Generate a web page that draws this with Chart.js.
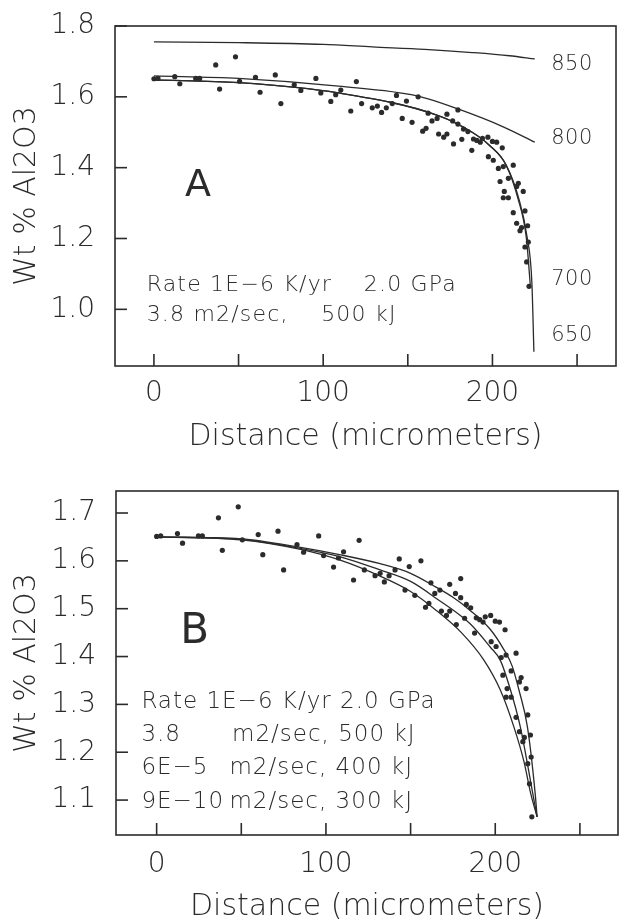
<!DOCTYPE html>
<html>
<head>
<meta charset="utf-8">
<script src="https://cdn.jsdelivr.net/npm/chart.js@4.4.1/dist/chart.umd.min.js"></script>
<style>
    html, body { margin: 0; padding: 0; background: #fff; }
    .panel { position: absolute; left: 0; }
</style>
</head>
<body>
<canvas id="chartA" class="panel" width="625" height="460" style="top:0"></canvas>
<canvas id="chartB" class="panel" width="625" height="462" style="top:460px"></canvas>
<script>
// measured profile (same points in both panels)
const distance = [0, 2.4, 12.3, 15.3, 24.7, 27, 36.5, 48.2, 38.8, 50.6, 60, 62.7, 71.7, 75, 82.9, 86.8,
    95.7, 98.6, 104.5, 107.4, 110.4, 119.6, 116.3, 122.7, 129, 132, 134.5, 137.3, 140.8, 143.3, 146.7,
    149.2, 152.5, 156.1, 158.8, 160.8, 162, 164.3, 167.3, 168.2, 171.2, 173.1, 173.1, 176.5, 177, 179.6,
    179.6, 181.9, 182.9, 185.5, 187.8, 188.8, 190.8, 192.8, 194.1, 197.3, 200, 202.5, 197.6, 200.5, 205.8,
    203.5, 206.4, 204.5, 209.4, 212.3, 207, 206.4, 209.4, 214.3, 215.3, 218.2, 212.3, 219.2, 214.3, 217.2,
    220.8, 216.3, 221.2, 219.2, 220.2, 221.6];
const alumina = [1.651, 1.652, 1.657, 1.637, 1.652, 1.652, 1.690, 1.713, 1.622, 1.644, 1.655, 1.613, 1.662,
    1.581, 1.634, 1.618, 1.652, 1.611, 1.587, 1.606, 1.619, 1.643, 1.560, 1.581, 1.569, 1.574, 1.556, 1.569,
    1.581, 1.604, 1.539, 1.588, 1.528, 1.600, 1.503, 1.511, 1.554, 1.532, 1.539, 1.495, 1.486, 1.495, 1.551,
    1.532, 1.467, 1.563, 1.523, 1.480, 1.509, 1.502, 1.449, 1.481, 1.477, 1.472, 1.483, 1.486, 1.474, 1.472,
    1.431, 1.421, 1.456, 1.398, 1.403, 1.361, 1.370, 1.407, 1.333, 1.315, 1.315, 1.347, 1.356, 1.333, 1.273,
    1.278, 1.243, 1.231, 1.236, 1.222, 1.190, 1.176, 1.134, 1.065];

// panel A model curves (labelled by temperature)
const c850x = [0, 50, 100, 129, 160, 188, 210, 225];
const c850y = [1.755, 1.753, 1.748, 1.741, 1.734, 1.725, 1.716, 1.707];
const c800x = [0, 50, 109, 156, 180, 207, 225];
const c800y = [1.659, 1.652, 1.630, 1.602, 1.565, 1.514, 1.472];
const c700x = [0, 50, 109, 168, 188, 198, 208, 215, 220, 222.5];
const c700y = [1.648, 1.640, 1.611, 1.547, 1.500, 1.464, 1.408, 1.314, 1.203, 1.06];
const c650x = [0, 50, 109, 168, 188, 198, 208, 215.5, 220.5, 223.3, 224.5];
const c650y = [1.648, 1.640, 1.611, 1.547, 1.500, 1.464, 1.408, 1.314, 1.203, 1.075, 0.88];

// panel B model curves (three diffusion parameter sets)
const bOuterX = [0, 50, 85, 108, 132, 150, 165, 175, 185, 197, 205, 210, 214, 219, 223.6, 224.7];
const bOuterY = [1.650, 1.646, 1.628, 1.613, 1.594, 1.574, 1.545, 1.524, 1.497, 1.457, 1.415, 1.380, 1.330, 1.253, 1.113, 1.065];
const bMidX = [0, 50, 85, 108, 132, 150, 165, 185, 197, 203, 209, 214.8, 222.2, 224.7];
const bMidY = [1.650, 1.645, 1.626, 1.609, 1.581, 1.557, 1.522, 1.469, 1.420, 1.392, 1.330, 1.253, 1.113, 1.065];
const bInnerX = [0, 50, 85, 108, 132, 150, 165, 180, 193, 203, 211, 217, 221, 224.7];
const bInnerY = [1.650, 1.644, 1.624, 1.602, 1.568, 1.536, 1.497, 1.450, 1.394, 1.330, 1.253, 1.180, 1.113, 1.065];

const curveLabelsA = ['850', '800', '700', '650'];
const curveLabelYA = [1.692, 1.483, 1.083, 0.925];

const FONT = "'DejaVu Sans', sans-serif";
const INK = '#2b2b2b';

function pts(xs, ys) {
    return xs.map((x, i) => ({x: x, y: ys[i]}));
}

function curve(xs, ys) {
    return {
        data: pts(xs, ys),
        showLine: true,
        pointRadius: 0,
        borderColor: INK,
        borderWidth: 1.3,
        cubicInterpolationMode: 'monotone',
    };
}

function dots() {
    return {
        data: pts(distance, alumina),
        pointRadius: 2.6,
        pointBackgroundColor: INK,
        pointBorderWidth: 0,
        showLine: false,
    };
}

// box round the plot, inward ticks and the text notes
const framePlugin = {
    id: 'frame',
    afterDraw: (chart, args, opts) => {
        const {ctx, chartArea: {left, right, top, bottom}, scales: {x, y}} = chart;
        ctx.save();
        ctx.strokeStyle = INK;
        ctx.lineWidth = 1.6;
        ctx.strokeRect(left, top, right - left, bottom - top);
        ctx.lineWidth = 1.6;
        x.ticks.forEach(t => {
            const px = x.getPixelForValue(t.value);
            ctx.beginPath();
            ctx.moveTo(px, bottom);
            ctx.lineTo(px, bottom - 12);
            ctx.stroke();
        });
        y.ticks.forEach(t => {
            const py = y.getPixelForValue(t.value);
            ctx.beginPath();
            ctx.moveTo(left, py);
            ctx.lineTo(left + 12, py);
            ctx.stroke();
        });
        ctx.fillStyle = INK;
        ctx.textBaseline = 'middle';
        opts.notes.forEach(n => {
            ctx.font = (n.weight || '200') + ' ' + n.size + 'px ' + FONT;
            ctx.letterSpacing = (n.spacing || 0) + 'px';
            ctx.textAlign = n.align || 'left';
            ctx.fillText(n.text, x.getPixelForValue(n.x), y.getPixelForValue(n.y));
        });
        ctx.restore();
    }
};

function makeChart(canvasId, datasets, notes, box) {
    const tickFont = {family: FONT, size: 28, weight: '200', lineHeight: 1};
    const titleFont = {family: FONT, size: 30, weight: '200', lineHeight: 1};
    return new Chart(document.getElementById(canvasId).getContext('2d'), {
        type: 'scatter',
        data: {datasets: datasets},
        options: {
            responsive: false,
            animation: false,
            events: [],
            layout: {padding: {top: box.top, right: box.right, left: 0, bottom: 0}},
            plugins: {legend: {display: false}, tooltip: {enabled: false}, frame: {notes: notes}},
            scales: {
                x: {
                    type: 'linear',
                    min: box.xMin, max: box.xMax,
                    grid: {display: false},
                    border: {display: false},
                    ticks: {
                        stepSize: 50, includeBounds: false, autoSkip: false, maxRotation: 0,
                        padding: box.xPad, color: INK, font: tickFont,
                        callback: v => (v % 100 === 0 ? String(v) : ''),
                    },
                    title: {display: true, text: 'Distance (micrometers)', color: INK, font: titleFont,
                        padding: {top: 0, bottom: box.titlePad}},
                    afterFit: s => { s.height = box.xHeight; },
                },
                y: {
                    type: 'linear',
                    min: box.yMin, max: box.yMax,
                    grid: {display: false},
                    border: {display: false},
                    ticks: {
                        stepSize: box.yStep, includeBounds: false, padding: 12, color: INK, font: tickFont,
                        callback: v => v.toFixed(1),
                    },
                    title: {display: true, text: 'Wt % Al2O3', color: INK, font: titleFont,
                        padding: {top: 12, bottom: 0}},
                    afterFit: s => { s.width = box.yWidth; },
                },
            },
        },
        plugins: [framePlugin],
    });
}

const notesA = [
    {text: 'A', x: 26, y: 1.347, size: 38, weight: '400', align: 'center'},
    {text: 'Rate 1E\u22126 K/yr', x: -4.3, y: 1.069, size: 22, spacing: 1.2},
    {text: '2.0 GPa', x: 124, y: 1.069, size: 22, spacing: 1.2},
    {text: '3.8 m2/sec,', x: -4.3, y: 0.983, size: 22, spacing: 1.2},
    {text: '500 kJ', x: 98.8, y: 0.983, size: 22, spacing: 1.2},
].concat(curveLabelsA.map((t, i) => ({text: t, x: 234.7, y: curveLabelYA[i], size: 21, spacing: 0.5})));

const notesB = [
    {text: 'B', x: 22.5, y: 1.451, size: 42, weight: '400', align: 'center'},
    {text: 'Rate 1E\u22126 K/yr 2.0 GPa', x: -9, y: 1.305, size: 23, spacing: 1},
    {text: '3.8', x: -9, y: 1.236, size: 23, spacing: 1},
    {text: 'm2/sec, 500 kJ', x: 44.5, y: 1.236, size: 23, spacing: 1},
    {text: '6E\u22125', x: -9, y: 1.167, size: 23, spacing: 1},
    {text: 'm2/sec, 400 kJ', x: 43, y: 1.167, size: 23, spacing: 1},
    {text: '9E\u221210', x: -9, y: 1.096, size: 23, spacing: 1},
    {text: 'm2/sec, 300 kJ', x: 43, y: 1.096, size: 23, spacing: 1},
];

makeChart('chartA',
    [curve(c850x, c850y), curve(c800x, c800y), curve(c700x, c700y), curve(c650x, c650y), dots()],
    notesA,
    {top: 22, right: 9, xMin: -23, xMax: 273, yMin: 0.84, yMax: 1.8, yStep: 0.2,
        yWidth: 115, xHeight: 94, xPad: 6, titlePad: 8});

makeChart('chartB',
    [curve(bOuterX, bOuterY), curve(bMidX, bMidY), curve(bInnerX, bInnerY), dots()],
    notesB,
    {top: 31, right: 7, xMin: -24, xMax: 272.5, yMin: 1.027, yMax: 1.746, yStep: 0.1,
        yWidth: 116, xHeight: 87, xPad: 8, titlePad: 0});
</script>
</body>
</html>
